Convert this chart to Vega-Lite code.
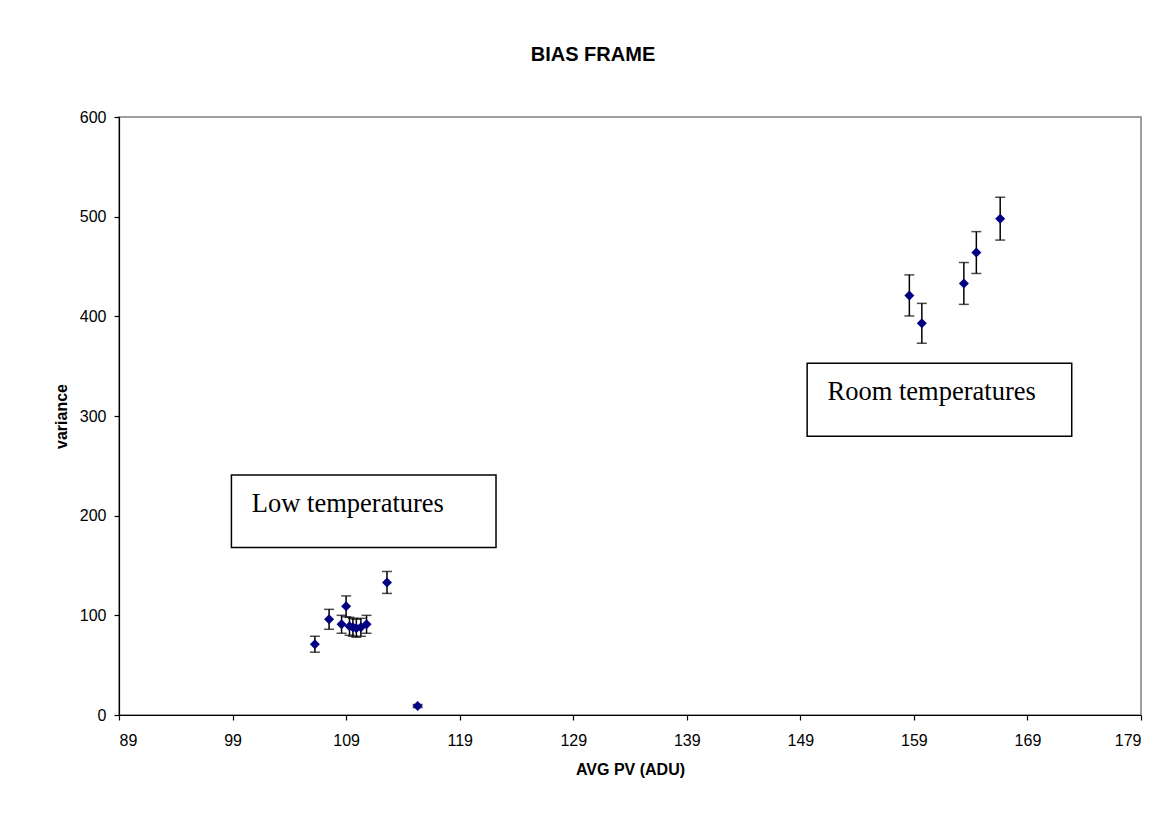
{
  "$schema": "https://vega.github.io/schema/vega-lite/v6.json",
  "width": 1022,
  "height": 598,
  "autosize": "none",
  "padding": {"left": 119, "top": 117, "right": 17, "bottom": 101},
  "background": "white",
  "title": {"text": "BIAS FRAME", "font": "Liberation Sans", "fontSize": 20, "fontWeight": "bold", "color": "black", "anchor": "middle", "dx": -37, "offset": 44},
  "config": {
    "view": {"stroke": "#808080", "strokeWidth": 1.5},
    "axis": {"grid": false, "domainColor": "black", "tickColor": "black", "labelFont": "Liberation Sans", "labelFontSize": 16, "labelColor": "black", "titleFont": "Liberation Sans", "titleFontSize": 16, "titleFontWeight": "bold", "titleColor": "black", "tickSize": 5, "domainWidth": 1.2, "tickWidth": 1.2}
  },
  "datasets": {
    "pts": [
      {"pv": 106.25, "variance": 71, "err": 8},
      {"pv": 107.5, "variance": 96, "err": 10},
      {"pv": 109.0, "variance": 109, "err": 10.5},
      {"pv": 108.6, "variance": 91, "err": 9},
      {"pv": 109.3, "variance": 89, "err": 9},
      {"pv": 109.6, "variance": 88, "err": 9},
      {"pv": 109.9, "variance": 87, "err": 9},
      {"pv": 110.3, "variance": 88, "err": 9},
      {"pv": 110.8, "variance": 91, "err": 9},
      {"pv": 112.6, "variance": 133, "err": 11},
      {"pv": 115.3, "variance": 9, "err": 1.5},
      {"pv": 158.6, "variance": 421, "err": 20.6},
      {"pv": 159.7, "variance": 393, "err": 20},
      {"pv": 163.4, "variance": 433, "err": 21},
      {"pv": 164.5, "variance": 464, "err": 21},
      {"pv": 166.6, "variance": 498, "err": 21.5}
    ],
    "boxes": [
      {"x1": 149.6, "x2": 172.9, "y1": 353, "y2": 279.8, "label": "Room temperatures", "tx": 151.4, "ty": 316},
      {"x1": 98.9, "x2": 122.2, "y1": 240.7, "y2": 168.1, "label": "Low temperatures", "tx": 100.7, "ty": 203.8}
    ]
  },
  "layer": [
    {
      "data": {"name": "boxes"},
      "mark": {"type": "rect", "fill": "white", "stroke": "black", "strokeWidth": 1.5},
      "encoding": {
        "x": {"field": "x1", "type": "quantitative", "scale": {"domain": [89, 179], "nice": false, "zero": false}, "axis": {"values": [89, 99, 109, 119, 129, 139, 149, 159, 169, 179], "title": "AVG PV (ADU)", "labelPadding": 12, "titlePadding": 13}},
        "x2": {"field": "x2"},
        "y": {"field": "y1", "type": "quantitative", "scale": {"domain": [0, 600], "nice": false}, "axis": {"values": [0, 100, 200, 300, 400, 500, 600], "title": "variance", "labelPadding": 8, "titlePadding": 10}},
        "y2": {"field": "y2"}
      }
    },
    {
      "data": {"name": "boxes"},
      "mark": {"type": "text", "font": "Liberation Serif", "fontSize": 26.5, "align": "left", "baseline": "alphabetic", "color": "black"},
      "encoding": {
        "x": {"field": "tx", "type": "quantitative"},
        "y": {"field": "ty", "type": "quantitative"},
        "text": {"field": "label"}
      }
    },
    {
      "data": {"name": "pts"},
      "mark": {"type": "errorbar", "color": "black", "thickness": 1.5, "ticks": {"size": 10, "thickness": 1.5, "color": "black"}},
      "encoding": {
        "x": {"field": "pv", "type": "quantitative"},
        "y": {"field": "variance", "type": "quantitative"},
        "yError": {"field": "err"}
      }
    },
    {
      "data": {"name": "pts"},
      "mark": {"type": "point", "shape": "diamond", "filled": true, "color": "#000080", "size": 100, "opacity": 1},
      "encoding": {
        "x": {"field": "pv", "type": "quantitative"},
        "y": {"field": "variance", "type": "quantitative"}
      }
    }
  ]
}
